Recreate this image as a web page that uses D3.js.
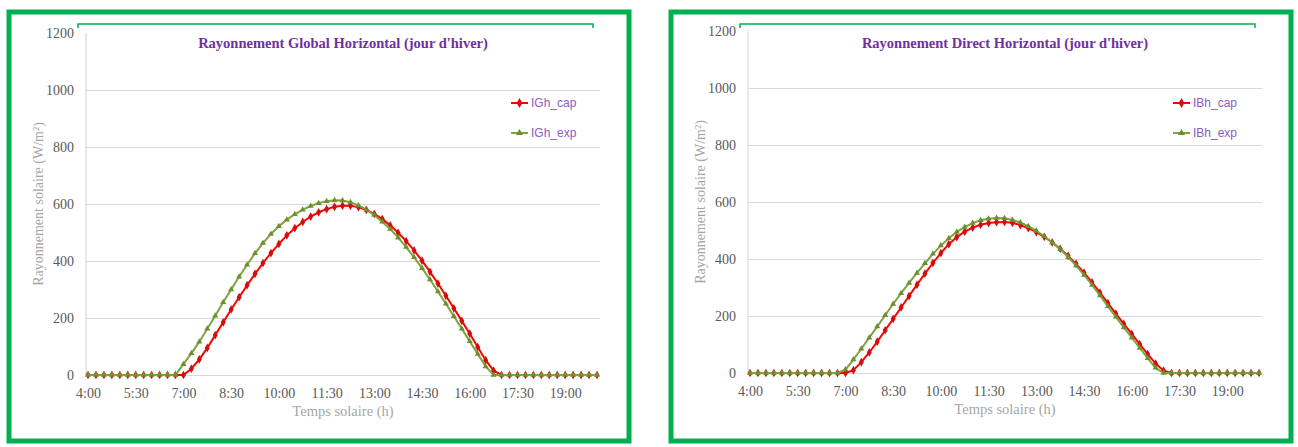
<!DOCTYPE html>
<html>
<head>
<meta charset="utf-8">
<script src="https://cdn.jsdelivr.net/npm/d3@7"></script>
<style>
  body { margin: 0; background: #fff; }
  svg { display: block; }
</style>
</head>
<body>
<svg width="1298" height="447"></svg>
<script>
const svg = d3.select('svg');

// categories: solar time, every 15 min
const times = [
  '4:00','4:15','4:30','4:45','5:00','5:15','5:30','5:45','6:00','6:15','6:30','6:45',
  '7:00','7:15','7:30','7:45','8:00','8:15','8:30','8:45','9:00','9:15','9:30','9:45',
  '10:00','10:15','10:30','10:45','11:00','11:15','11:30','11:45','12:00','12:15','12:30','12:45',
  '13:00','13:15','13:30','13:45','14:00','14:15','14:30','14:45','15:00','15:15','15:30','15:45',
  '16:00','16:15','16:30','16:45','17:00','17:15','17:30','17:45','18:00','18:15','18:30','18:45',
  '19:00','19:15','19:30','19:45','20:00'
];
const xTickLabels = ['4:00','5:30','7:00','8:30','10:00','11:30','13:00','14:30','16:00','17:30','19:00'];
const yTicks = [0, 200, 400, 600, 800, 1000, 1200];

// global horizontal (W/m2)
const IGh_cap = [
  0,0,0,0,0,0,0,0,0,0,0,0,0,
  22,55,95,140,185,230,273,315,355,393,428,460,490,515,537,556,571,582,590,594,
  594,589,579,565,547,525,499,470,437,401,362,321,278,234,190,145,98,52,15,
  0,0,0,0,0,0,0,0,0,0,0,0,0
];
const IGh_exp = [
  0,0,0,0,0,0,0,0,0,0,0,0,
  38,76,117,162,208,255,300,345,387,427,463,495,522,545,564,580,593,603,610,613,612,
  606,595,580,561,538,512,482,449,413,375,335,293,250,206,162,118,74,30,
  0,0,0,0,0,0,0,0,0,0,0,0,0,0
];

// direct horizontal (W/m2)
const IBh_cap = [
  0,0,0,0,0,0,0,0,0,0,0,0,0,
  10,38,72,110,150,190,230,270,310,349,386,421,452,477,496,510,520,526,529,530,
  527,519,508,494,478,458,436,411,383,352,318,282,245,208,172,137,101,66,33,8,
  0,0,0,0,0,0,0,0,0,0,0,0
];
const IBh_exp = [
  0,0,0,0,0,0,0,0,0,0,0,0,
  12,47,85,124,163,203,242,280,316,351,385,418,447,473,495,512,526,536,541,544,543,
  537,528,515,499,480,458,434,407,377,344,309,272,234,197,160,124,88,52,18,
  0,0,0,0,0,0,0,0,0,0,0,0,0
];

const green = '#00B050';
const redLine = '#FF0000';
const greenLine = '#7FA33F';

const drawChart = cfg => {
  const ox = cfg.ox;
  const g = svg.append('g').attr('transform', `translate(${ox},0)`);

  // outer frame
  g.append('rect')
    .attr('x', 9).attr('y', 12)
    .attr('width', 620).attr('height', 429)
    .attr('fill', 'none').attr('stroke', green).attr('stroke-width', 5);

  // thin top line of chart area
  g.append('path')
    .attr('d', 'M78,28 V24 H593 V28')
    .attr('fill', 'none').attr('stroke', green).attr('stroke-width', 1.5);

  const plotLeft = 86, plotRight = 600;
  const yScale = d3.scaleLinear().domain([0, 1200]).range([cfg.y0, cfg.y0 - 342]);
  const xScale = d3.scalePoint().domain(times).range([88, 597]);

  // gridlines + y labels
  const yAxis = g.append('g')
    .attr('transform', `translate(${plotLeft},0)`)
    .call(d3.axisLeft(yScale).tickValues(yTicks).tickFormat(d3.format('d'))
      .tickSize(-(plotRight - plotLeft)).tickPadding(12));
  yAxis.select('.domain').remove();
  yAxis.selectAll('.tick line')
    .attr('stroke', '#d9d9d9').attr('stroke-width', 1.2)
    .attr('display', d => d === 1200 ? 'none' : null);
  yAxis.selectAll('.tick text')
    .attr('font-family', '"Liberation Serif", serif')
    .attr('font-size', 14).attr('fill', '#595959');

  // vertical axis line
  g.append('line')
    .attr('x1', plotLeft).attr('x2', plotLeft)
    .attr('y1', yScale(1200)).attr('y2', yScale(0))
    .attr('stroke', '#d9d9d9').attr('stroke-width', 1.2);

  // x labels
  const xAxis = g.append('g')
    .attr('transform', `translate(0,${cfg.y0})`)
    .call(d3.axisBottom(xScale).tickValues(xTickLabels).tickSize(0).tickPadding(13));
  xAxis.select('.domain').remove();
  xAxis.selectAll('.tick text')
    .attr('font-family', '"Liberation Serif", serif')
    .attr('font-size', 14).attr('fill', '#595959');

  // axis titles
  g.append('text')
    .attr('x', (plotLeft + plotRight) / 2).attr('y', cfg.y0 + 41)
    .attr('text-anchor', 'middle')
    .attr('font-family', '"Liberation Serif", serif')
    .attr('font-size', 14.5).attr('fill', '#a6a6a6')
    .text('Temps solaire (h)');
  g.append('text')
    .attr('transform', `translate(43,${yScale(600)}) rotate(-90)`)
    .attr('text-anchor', 'middle')
    .attr('font-family', '"Liberation Serif", serif')
    .attr('font-size', 14).attr('fill', '#a6a6a6')
    .text('Rayonnement solaire (W/m²)');

  // title
  g.append('text')
    .attr('x', (plotLeft + plotRight) / 2).attr('y', 48)
    .attr('text-anchor', 'middle')
    .attr('font-family', '"Liberation Serif", serif')
    .attr('font-weight', 'bold')
    .attr('font-size', 14.5).attr('fill', '#7030A0')
    .text(cfg.title);

  const line = d3.line()
    .x((d, i) => xScale(times[i]))
    .y(d => yScale(d));

  const series = [
    {name: cfg.names[0], values: cfg.cap, color: redLine, marker: '#D01010', sym: d3.symbolDiamond, size: 22},
    {name: cfg.names[1], values: cfg.exp, color: greenLine, marker: '#6E8F30', sym: d3.symbolTriangle, size: 16},
  ];

  series.forEach(s => {
    g.append('path')
      .datum(s.values)
      .attr('d', line)
      .attr('fill', 'none')
      .attr('stroke', s.color)
      .attr('stroke-width', 2);
    g.append('g').selectAll('path')
      .data(s.values)
      .enter().append('path')
      .attr('transform', (d, i) => `translate(${xScale(times[i])},${yScale(d)})`)
      .attr('d', d3.symbol().type(s.sym).size(s.size))
      .attr('fill', s.marker);
  });

  // legend
  const legend = g.append('g');
  series.forEach((s, i) => {
    const ly = 103 + i * 30;
    legend.append('line')
      .attr('x1', 511).attr('x2', 528).attr('y1', ly).attr('y2', ly)
      .attr('stroke', s.color).attr('stroke-width', 2);
    legend.append('path')
      .attr('transform', `translate(519.5,${ly})`)
      .attr('d', d3.symbol().type(s.sym).size(s.size + 6))
      .attr('fill', s.marker);
    legend.append('text')
      .attr('x', 531).attr('y', ly + 4)
      .attr('font-family', '"Liberation Sans", sans-serif')
      .attr('font-size', 12).attr('fill', '#8a5cc0')
      .text(s.name);
  });
};

drawChart({
  ox: 0, y0: 375,
  title: "Rayonnement Global Horizontal (jour d'hiver)",
  names: ['IGh_cap', 'IGh_exp'],
  cap: IGh_cap, exp: IGh_exp,
});
drawChart({
  ox: 662, y0: 373,
  title: "Rayonnement Direct Horizontal (jour d'hiver)",
  names: ['IBh_cap', 'IBh_exp'],
  cap: IBh_cap, exp: IBh_exp,
});
</script>
</body>
</html>
